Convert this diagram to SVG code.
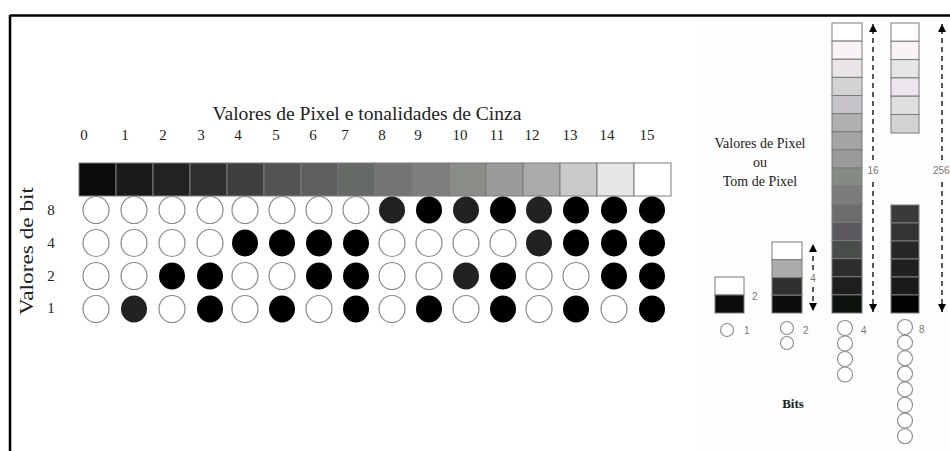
<svg xmlns="http://www.w3.org/2000/svg" width="950" height="451" viewBox="0 0 950 451">
<style>
text{font-family:"Liberation Serif","Times New Roman",serif;fill:#222}
.num{font-size:15px;text-anchor:middle}
.lab{font-family:"Liberation Sans",Arial,sans-serif;font-size:10px;fill:#777}
.o{fill:#fff;stroke:#8a8a8a;stroke-width:1.2}
.f{fill:#000}
.g{fill:#222}
.c{stroke:#7a7a7a;stroke-width:1}
.s{fill:#fff;stroke:#8a8a8a;stroke-width:1.1}
.d{stroke:#000;stroke-width:1.3;stroke-dasharray:5 4;fill:none}
</style>
<defs>
<marker id="ae" markerUnits="userSpaceOnUse" markerWidth="8" markerHeight="9" refX="8" refY="4" orient="auto" viewBox="0 0 8 8">
<path d="M0,0 L8,4 L0,8 Z" fill="#000"/>
</marker>
</defs>
<rect width="950" height="451" fill="#fff"/>
<rect x="697" y="17" width="253" height="434" fill="#fdfdfd"/>
<g id="frame">
<line x1="10" y1="15.5" x2="950" y2="15.5" stroke="#000" stroke-width="2.5"/>
<line x1="10" y1="15" x2="10" y2="451" stroke="#000" stroke-width="2.5"/>
</g>
<g id="title">
<text x="367" y="120" font-size="18" text-anchor="middle" textLength="309" lengthAdjust="spacingAndGlyphs">Valores de Pixel e tonalidades de Cinza</text>
</g>
<g id="numbers">
<text class="num" x="84" y="140">0</text>
<text class="num" x="125" y="140">1</text>
<text class="num" x="163" y="140">2</text>
<text class="num" x="201" y="140">3</text>
<text class="num" x="238" y="140">4</text>
<text class="num" x="276" y="140">5</text>
<text class="num" x="313" y="140">6</text>
<text class="num" x="345" y="140">7</text>
<text class="num" x="382" y="140">8</text>
<text class="num" x="418" y="140">9</text>
<text class="num" x="460" y="140">10</text>
<text class="num" x="497" y="140">11</text>
<text class="num" x="532" y="140">12</text>
<text class="num" x="570" y="140">13</text>
<text class="num" x="607" y="140">14</text>
<text class="num" x="647" y="140">15</text>
</g>
<g id="graybar">
<rect class="c" x="79" y="163" width="37" height="33" fill="#0a0c0a"/>
<rect class="c" x="116" y="163" width="37" height="33" fill="#1a1a1a"/>
<rect class="c" x="153" y="163" width="37" height="33" fill="#232323"/>
<rect class="c" x="190" y="163" width="37" height="33" fill="#2f2f2f"/>
<rect class="c" x="227" y="163" width="37" height="33" fill="#3e3e3e"/>
<rect class="c" x="264" y="163" width="37" height="33" fill="#545454"/>
<rect class="c" x="301" y="163" width="37" height="33" fill="#5e5e5e"/>
<rect class="c" x="338" y="163" width="37" height="33" fill="#666a66"/>
<rect class="c" x="375" y="163" width="37" height="33" fill="#747474"/>
<rect class="c" x="412" y="163" width="37" height="33" fill="#7e7e7e"/>
<rect class="c" x="449" y="163" width="37" height="33" fill="#8a8c88"/>
<rect class="c" x="486" y="163" width="37" height="33" fill="#9c9a9c"/>
<rect class="c" x="523" y="163" width="37" height="33" fill="#acaaac"/>
<rect class="c" x="560" y="163" width="37" height="33" fill="#cacaca"/>
<rect class="c" x="597" y="163" width="37" height="33" fill="#e6e6e6"/>
<rect class="c" x="634" y="163" width="37" height="33" fill="#ffffff"/>
</g>
<g id="bitlabel">
<text x="0" y="0" font-size="18" text-anchor="middle" textLength="128" lengthAdjust="spacingAndGlyphs" transform="translate(33,251) rotate(-90)">Valores de bit</text>
<text class="num" x="51" y="215">8</text>
<text class="num" x="51" y="248">4</text>
<text class="num" x="51" y="281">2</text>
<text class="num" x="51" y="313">1</text>
</g>
<g id="row8">
<ellipse class="o" cx="96" cy="210" rx="13" ry="13.5"/>
<ellipse class="o" cx="134" cy="210" rx="13" ry="13.5"/>
<ellipse class="o" cx="172" cy="210" rx="13" ry="13.5"/>
<ellipse class="o" cx="210" cy="210" rx="13" ry="13.5"/>
<ellipse class="o" cx="245" cy="210" rx="13" ry="13.5"/>
<ellipse class="o" cx="282" cy="210" rx="13" ry="13.5"/>
<ellipse class="o" cx="319" cy="210" rx="13" ry="13.5"/>
<ellipse class="o" cx="356" cy="210" rx="13" ry="13.5"/>
<ellipse class="g" cx="392" cy="210" rx="13" ry="13.5"/>
<ellipse class="f" cx="429" cy="210" rx="13" ry="13.5"/>
<ellipse class="g" cx="466" cy="210" rx="13" ry="13.5"/>
<ellipse class="f" cx="503" cy="210" rx="13" ry="13.5"/>
<ellipse class="g" cx="539" cy="210" rx="13" ry="13.5"/>
<ellipse class="f" cx="576" cy="210" rx="13" ry="13.5"/>
<ellipse class="f" cx="614" cy="210" rx="13" ry="13.5"/>
<ellipse class="f" cx="652" cy="210" rx="13" ry="13.5"/>
</g>
<g id="row4">
<ellipse class="o" cx="96" cy="243" rx="13" ry="13.5"/>
<ellipse class="o" cx="134" cy="243" rx="13" ry="13.5"/>
<ellipse class="o" cx="172" cy="243" rx="13" ry="13.5"/>
<ellipse class="o" cx="210" cy="243" rx="13" ry="13.5"/>
<ellipse class="f" cx="245" cy="243" rx="13" ry="13.5"/>
<ellipse class="f" cx="282" cy="243" rx="13" ry="13.5"/>
<ellipse class="f" cx="319" cy="243" rx="13" ry="13.5"/>
<ellipse class="f" cx="356" cy="243" rx="13" ry="13.5"/>
<ellipse class="o" cx="392" cy="243" rx="13" ry="13.5"/>
<ellipse class="o" cx="429" cy="243" rx="13" ry="13.5"/>
<ellipse class="o" cx="466" cy="243" rx="13" ry="13.5"/>
<ellipse class="o" cx="503" cy="243" rx="13" ry="13.5"/>
<ellipse class="g" cx="539" cy="243" rx="13" ry="13.5"/>
<ellipse class="f" cx="576" cy="243" rx="13" ry="13.5"/>
<ellipse class="f" cx="614" cy="243" rx="13" ry="13.5"/>
<ellipse class="f" cx="652" cy="243" rx="13" ry="13.5"/>
</g>
<g id="row2">
<ellipse class="o" cx="96" cy="276" rx="13" ry="13.5"/>
<ellipse class="o" cx="134" cy="276" rx="13" ry="13.5"/>
<ellipse class="f" cx="172" cy="276" rx="13" ry="13.5"/>
<ellipse class="f" cx="210" cy="276" rx="13" ry="13.5"/>
<ellipse class="o" cx="245" cy="276" rx="13" ry="13.5"/>
<ellipse class="o" cx="282" cy="276" rx="13" ry="13.5"/>
<ellipse class="f" cx="319" cy="276" rx="13" ry="13.5"/>
<ellipse class="f" cx="356" cy="276" rx="13" ry="13.5"/>
<ellipse class="o" cx="392" cy="276" rx="13" ry="13.5"/>
<ellipse class="o" cx="429" cy="276" rx="13" ry="13.5"/>
<ellipse class="g" cx="466" cy="276" rx="13" ry="13.5"/>
<ellipse class="f" cx="503" cy="276" rx="13" ry="13.5"/>
<ellipse class="o" cx="539" cy="276" rx="13" ry="13.5"/>
<ellipse class="o" cx="576" cy="276" rx="13" ry="13.5"/>
<ellipse class="f" cx="614" cy="276" rx="13" ry="13.5"/>
<ellipse class="f" cx="652" cy="276" rx="13" ry="13.5"/>
</g>
<g id="row1">
<ellipse class="o" cx="96" cy="309" rx="13" ry="13.5"/>
<ellipse class="g" cx="134" cy="309" rx="13" ry="13.5"/>
<ellipse class="o" cx="172" cy="309" rx="13" ry="13.5"/>
<ellipse class="f" cx="210" cy="309" rx="13" ry="13.5"/>
<ellipse class="o" cx="245" cy="309" rx="13" ry="13.5"/>
<ellipse class="f" cx="282" cy="309" rx="13" ry="13.5"/>
<ellipse class="o" cx="319" cy="309" rx="13" ry="13.5"/>
<ellipse class="f" cx="356" cy="309" rx="13" ry="13.5"/>
<ellipse class="o" cx="392" cy="309" rx="13" ry="13.5"/>
<ellipse class="f" cx="429" cy="309" rx="13" ry="13.5"/>
<ellipse class="o" cx="466" cy="309" rx="13" ry="13.5"/>
<ellipse class="f" cx="503" cy="309" rx="13" ry="13.5"/>
<ellipse class="o" cx="539" cy="309" rx="13" ry="13.5"/>
<ellipse class="f" cx="576" cy="309" rx="13" ry="13.5"/>
<ellipse class="o" cx="614" cy="309" rx="13" ry="13.5"/>
<ellipse class="f" cx="652" cy="309" rx="13" ry="13.5"/>
</g>
<g id="legend-title">
<text x="760" y="148" font-size="14" text-anchor="middle">Valores de Pixel</text>
<text x="760" y="167" font-size="14" text-anchor="middle">ou</text>
<text x="760" y="186" font-size="14" text-anchor="middle">Tom de Pixel</text>
</g>
<g id="stack1">
<rect class="c" x="715" y="277" width="29" height="18" fill="#fff"/>
<rect class="c" x="715" y="295" width="29" height="18" fill="#0a0c0a"/>
<text class="lab" x="752" y="300">2</text>
<circle class="s" cx="727" cy="330" r="6.5"/>
<text class="lab" x="744" y="334">1</text>
</g>
<g id="stack2">
<rect class="c" x="772" y="242" width="30" height="17.75" fill="#fff"/>
<rect class="c" x="772" y="259.75" width="30" height="17.75" fill="#ababab"/>
<rect class="c" x="772" y="277.5" width="30" height="17.75" fill="#303030"/>
<rect class="c" x="772" y="295.25" width="30" height="17.75" fill="#0c0e0c"/>
<text class="lab" x="813" y="282" text-anchor="middle">4</text>
<circle class="s" cx="787" cy="328" r="6.5"/>
<circle class="s" cx="787" cy="343" r="6.5"/>
<text class="lab" x="803" y="334">2</text>
</g>
<g id="stack3">
<rect class="c" x="832" y="23" width="30" height="18.125" fill="#ffffff"/>
<rect class="c" x="832" y="41.125" width="30" height="18.125" fill="#f7f3f7"/>
<rect class="c" x="832" y="59.25" width="30" height="18.125" fill="#e9e5e9"/>
<rect class="c" x="832" y="77.375" width="30" height="18.125" fill="#d3d3d3"/>
<rect class="c" x="832" y="95.5" width="30" height="18.125" fill="#c6c4c8"/>
<rect class="c" x="832" y="113.625" width="30" height="18.125" fill="#b0b0b0"/>
<rect class="c" x="832" y="131.75" width="30" height="18.125" fill="#a4a4a4"/>
<rect class="c" x="832" y="149.875" width="30" height="18.125" fill="#9a9a9a"/>
<rect class="c" x="832" y="168" width="30" height="18.125" fill="#868a84"/>
<rect class="c" x="832" y="186.125" width="30" height="18.125" fill="#7c7c7c"/>
<rect class="c" x="832" y="204.25" width="30" height="18.125" fill="#6c6c6c"/>
<rect class="c" x="832" y="222.375" width="30" height="18.125" fill="#5c5a5e"/>
<rect class="c" x="832" y="240.5" width="30" height="18.125" fill="#4a4e4a"/>
<rect class="c" x="832" y="258.625" width="30" height="18.125" fill="#2e2e2e"/>
<rect class="c" x="832" y="276.75" width="30" height="18.125" fill="#1e1e1e"/>
<rect class="c" x="832" y="294.875" width="30" height="18.125" fill="#0e120e"/>
<text class="lab" x="873" y="174" text-anchor="middle">16</text>
<circle class="s" cx="845" cy="328" r="7.5"/>
<circle class="s" cx="845" cy="343.5" r="7.5"/>
<circle class="s" cx="845" cy="359" r="7.5"/>
<circle class="s" cx="845" cy="374.5" r="7.5"/>
<text class="lab" x="861" y="334">4</text>
</g>
<g id="stack4">
<rect class="c" x="891" y="23" width="28" height="18.3" fill="#ffffff"/>
<rect class="c" x="891" y="41.3" width="28" height="18.3" fill="#f7f3f7"/>
<rect class="c" x="891" y="59.6" width="28" height="18.3" fill="#e6e6e6"/>
<rect class="c" x="891" y="77.9" width="28" height="18.3" fill="#ece7ec"/>
<rect class="c" x="891" y="96.2" width="28" height="18.3" fill="#e0dee0"/>
<rect class="c" x="891" y="114.5" width="28" height="18.5" fill="#d2d2d2"/>
<rect class="c" x="891" y="205" width="28" height="18" fill="#3a3a3a"/>
<rect class="c" x="891" y="223" width="28" height="18" fill="#333333"/>
<rect class="c" x="891" y="241" width="28" height="18" fill="#262826"/>
<rect class="c" x="891" y="259" width="28" height="18" fill="#202020"/>
<rect class="c" x="891" y="277" width="28" height="18" fill="#1a1a1a"/>
<rect class="c" x="891" y="295" width="28" height="18" fill="#030303"/>
<text class="lab" x="933" y="174">256</text>
<circle class="s" cx="905" cy="327" r="7.5"/>
<circle class="s" cx="905" cy="342.6" r="7.5"/>
<circle class="s" cx="905" cy="358.2" r="7.5"/>
<circle class="s" cx="905" cy="373.8" r="7.5"/>
<circle class="s" cx="905" cy="389.4" r="7.5"/>
<circle class="s" cx="905" cy="405" r="7.5"/>
<circle class="s" cx="905" cy="420.6" r="7.5"/>
<circle class="s" cx="905" cy="436.2" r="7.5"/>
<text class="lab" x="919" y="333">8</text>
</g>
<g id="bits-label">
<text x="793" y="408" font-size="13" font-weight="bold" text-anchor="middle">Bits</text>
</g>
<g id="connectors">
<line class="d" x1="813" y1="270" x2="813" y2="244" marker-end="url(#ae)"/>
<line class="d" x1="813" y1="287" x2="813" y2="311" marker-end="url(#ae)"/>
<line class="d" x1="873" y1="160" x2="873" y2="24" marker-end="url(#ae)"/>
<line class="d" x1="873" y1="182" x2="873" y2="312" marker-end="url(#ae)"/>
<line class="d" x1="942" y1="160" x2="942" y2="24" marker-end="url(#ae)"/>
<line class="d" x1="942" y1="182" x2="942" y2="312" marker-end="url(#ae)"/>
</g>
</svg>
